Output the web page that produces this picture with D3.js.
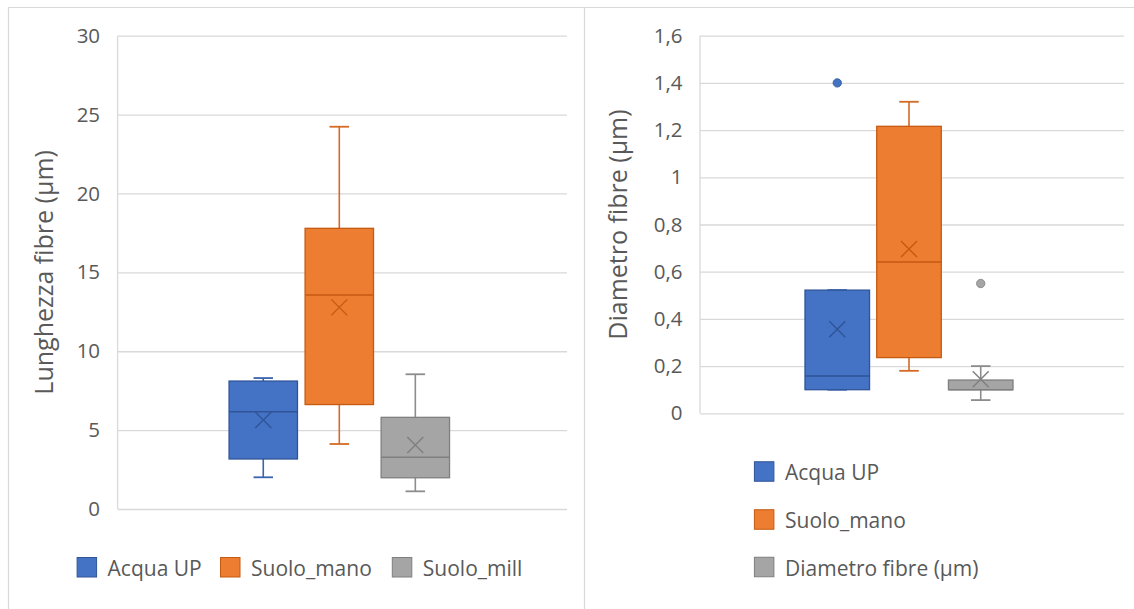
<!DOCTYPE html>
<html>
<head>
<meta charset="utf-8">
<script src="https://cdn.jsdelivr.net/npm/d3@7"></script>
<style>
  html, body { margin: 0; padding: 0; background: #fff; }
  svg { display: block; font-family: "Open Sans", "Liberation Sans", sans-serif; }
</style>
</head>
<body>
<svg id="chart" width="1134" height="609"></svg>
<script>
// ---- Lunghezza fibre (µm) ----
const lengthSeries = ["Acqua UP", "Suolo_mano", "Suolo_mill"];
const lengthWhiskerLow = [2.01, 4.12, 1.12];
const lengthQ1 = [3.17, 6.62, 1.98];
const lengthMedian = [6.17, 13.56, 3.28];
const lengthQ3 = [8.11, 17.79, 5.81];
const lengthWhiskerHigh = [8.30, 24.23, 8.54];
const lengthMean = [5.64, 12.78, 4.06];
const lengthOutliers = [[], [], []];
const lengthTicks = [0, 5, 10, 15, 20, 25, 30];

// ---- Diametro fibre (µm) ----
const diamSeries = ["Acqua UP", "Suolo_mano", "Diametro fibre (µm)"];
const diamWhiskerLow = [0.10, 0.18, 0.056];
const diamQ1 = [0.10, 0.236, 0.10];
const diamMedian = [0.158, 0.641, 0.10];
const diamQ3 = [0.522, 1.216, 0.141];
const diamWhiskerHigh = [0.522, 1.32, 0.20];
const diamMean = [0.356, 0.696, 0.144];
const diamOutliers = [[1.40], [], [0.55]];
const diamTicks = [0, 0.2, 0.4, 0.6, 0.8, 1, 1.2, 1.4, 1.6];

const fills = ["#4472C4", "#ED7D31", "#A5A5A5"];
const strokes = ["#2F5597", "#C55A11", "#7F7F7F"];
const lineCols = ["#3A63AE", "#D46A24", "#8C8C8C"];
const gridCol = "#D9D9D9";
const textCol = "#595959";

const itLocale = d3.formatLocale({ decimal: ",", thousands: ".", grouping: [3], currency: ["", "€"] });
const fmt = itLocale.format("~g");

const svg = d3.select("#chart");

// panel frames
svg.append("line").attr("x1", 8).attr("x2", 1134).attr("y1", 7.5).attr("y2", 7.5)
  .attr("stroke", gridCol).attr("stroke-width", 1.2);
svg.append("line").attr("x1", 8.5).attr("x2", 8.5).attr("y1", 7).attr("y2", 609)
  .attr("stroke", gridCol).attr("stroke-width", 1.2);
svg.append("line").attr("x1", 584.5).attr("x2", 584.5).attr("y1", 7).attr("y2", 609)
  .attr("stroke", gridCol).attr("stroke-width", 1.2);

function drawBoxChart(cfg) {
  const { left, right, top, bottom, yMax, ticks, series, lo, q1, med, q3, hi, mean, outliers, title, titleX } = cfg;
  const y = d3.scaleLinear().domain([0, yMax]).range([bottom, top]);
  const W = right - left;
  const xCat = d3.scaleBand().domain(["c"]).range([left, right]);
  const c = xCat("c") + xCat.bandwidth() / 2 - 3;
  const xs = d3.scaleBand().domain(series)
    .range([c - 0.2453 * W, c + 0.2453 * W]).paddingInner(0.1);
  const bw = xs.bandwidth();
  const capW = 19.5;

  // gridlines + tick labels
  const ax = svg.append("g").attr("transform", `translate(${left},0)`)
    .call(d3.axisLeft(y).tickValues(ticks).tickFormat(fmt).tickSize(-W).tickSizeOuter(0).tickPadding(17.5));
  ax.select(".domain").remove();
  ax.selectAll(".tick line").attr("stroke", gridCol).attr("stroke-width", 1.3);
  ax.selectAll(".tick text").attr("fill", textCol).style("font-size", "20.5px")
    .style("font-family", "'Open Sans', sans-serif");
  // vertical axis line
  svg.append("line").attr("x1", left).attr("x2", left).attr("y1", y(yMax)).attr("y2", y(0))
    .attr("stroke", gridCol).attr("stroke-width", 1.3);

  // axis title
  svg.append("text")
    .attr("transform", `translate(${titleX},${(top + bottom) / 2}) rotate(-90)`)
    .attr("text-anchor", "middle").attr("dominant-baseline", "central")
    .attr("fill", textCol).style("font-size", "25px").text(title);

  series.forEach((s, i) => {
    const g = svg.append("g");
    const cx = xs(s) + bw / 2;
    // whiskers
    [[q3[i], hi[i]], [q1[i], lo[i]]].forEach(([a, b]) => {
      g.append("line").attr("x1", cx).attr("x2", cx).attr("y1", y(a)).attr("y2", y(b))
        .attr("stroke", lineCols[i]).attr("stroke-width", 1.6);
      g.append("line").attr("x1", cx - capW / 2).attr("x2", cx + capW / 2).attr("y1", y(b)).attr("y2", y(b))
        .attr("stroke", lineCols[i]).attr("stroke-width", 1.8);
    });
    // box
    g.append("rect").attr("x", xs(s)).attr("width", bw)
      .attr("y", y(q3[i])).attr("height", y(q1[i]) - y(q3[i]))
      .attr("fill", fills[i]).attr("stroke", strokes[i]).attr("stroke-width", 1.3);
    // median
    g.append("line").attr("x1", xs(s)).attr("x2", xs(s) + bw).attr("y1", y(med[i])).attr("y2", y(med[i]))
      .attr("stroke", strokes[i]).attr("stroke-width", 1.5);
    // mean marker (x)
    const m = 8, my = y(mean[i]);
    g.append("path")
      .attr("d", `M${cx - m},${my - m}L${cx + m},${my + m}M${cx - m},${my + m}L${cx + m},${my - m}`)
      .attr("stroke", strokes[i]).attr("stroke-width", 1.4).attr("fill", "none");
    // outliers
    outliers[i].forEach(v => {
      g.append("circle").attr("cx", cx).attr("cy", y(v)).attr("r", 4.2)
        .attr("fill", fills[i]).attr("stroke", strokes[i]).attr("stroke-width", 0.8);
    });
  });
}

drawBoxChart({
  left: 117.6, right: 567, top: 35.7, bottom: 509, yMax: 30, ticks: lengthTicks,
  series: lengthSeries, lo: lengthWhiskerLow, q1: lengthQ1, med: lengthMedian, q3: lengthQ3,
  hi: lengthWhiskerHigh, mean: lengthMean, outliers: lengthOutliers,
  title: "Lunghezza fibre (µm)", titleX: 42.5
});

drawBoxChart({
  left: 700, right: 1124, top: 35.7, bottom: 413.3, yMax: 1.6, ticks: diamTicks,
  series: diamSeries, lo: diamWhiskerLow, q1: diamQ1, med: diamMedian, q3: diamQ3,
  hi: diamWhiskerHigh, mean: diamMean, outliers: diamOutliers,
  title: "Diametro fibre (µm)", titleX: 617
});

// legend: left chart (horizontal)
const legL = svg.append("g");
const legLX = [76.6, 220, 391.8];
lengthSeries.forEach((s, i) => {
  legL.append("rect").attr("x", legLX[i] + 0.5).attr("y", 557.5).attr("width", 19.5).attr("height", 19.5)
    .attr("fill", fills[i]).attr("stroke", strokes[i]).attr("stroke-width", 1);
  legL.append("text").attr("x", legLX[i] + 31).attr("y", 567.5).attr("dominant-baseline", "central")
    .attr("fill", textCol).style("font-size", "21px").text(s);
});

// legend: right chart (vertical)
const legR = svg.append("g");
const legRY = [471.5, 519.5, 567];
diamSeries.forEach((s, i) => {
  legR.append("rect").attr("x", 754.4).attr("y", legRY[i] - 9.75).attr("width", 19.5).attr("height", 19.5)
    .attr("fill", fills[i]).attr("stroke", strokes[i]).attr("stroke-width", 1);
  legR.append("text").attr("x", 785).attr("y", legRY[i] + 0.5).attr("dominant-baseline", "central")
    .attr("fill", textCol).style("font-size", "21px").text(s);
});
</script>
</body>
</html>
